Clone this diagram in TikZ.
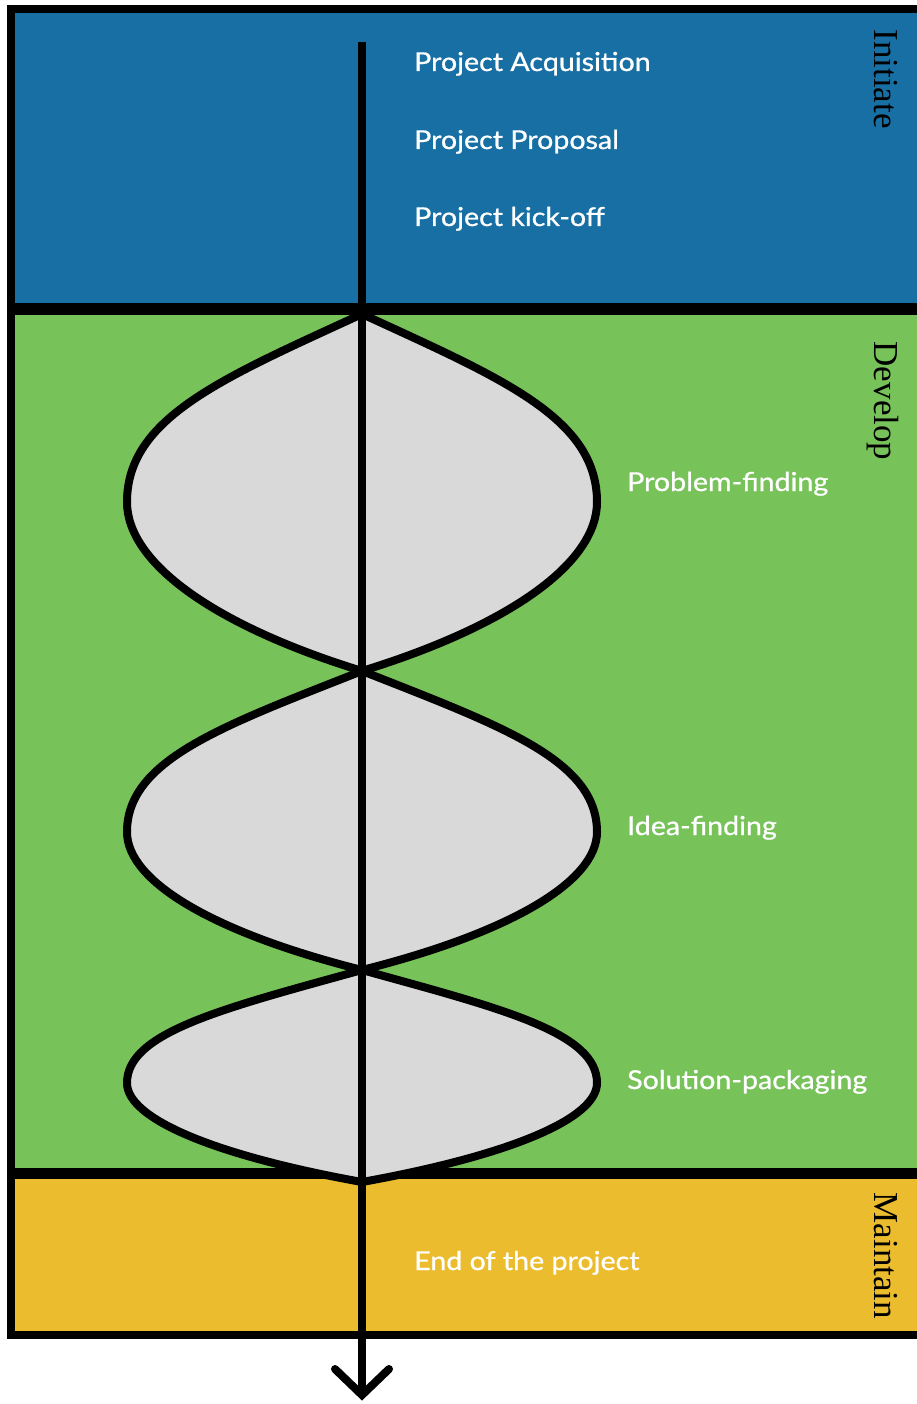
\documentclass[tikz,border=0pt]{standalone}
\usepackage{fontspec}
\newfontfamily\stepfont[FakeStretch=1.1,FakeBold=0.8]{Lato}
\newfontfamily\phasefont{Liberation Serif}
\definecolor{initblue}{HTML}{186FA3}
\definecolor{devgreen}{HTML}{78C25A}
\definecolor{maintyellow}{HTML}{EBBC2E}
\definecolor{lensgray}{HTML}{D9D9D9}
\tikzset{
  sepline/.style={line width=11pt, black},
  frameline/.style={line width=8pt, black, line join=miter},
  lensstyle/.style={fill=lensgray, draw=black, line width=8pt},
  flowline/.style={line width=8pt, black},
  steplabel/.style={text=white, font=\stepfont\fontsize{26}{30}\selectfont, anchor=base west, inner sep=0pt},
  phaselabel/.style={text=black, font=\phasefont\fontsize{35}{40}\selectfont, rotate=-90, anchor=base, inner sep=0pt}
}
\newcommand\lensshape[3]{%
  \pgfmathsetmacro\hA{#2-#1}%
  \pgfmathsetmacro\hB{#3-#2}%
  \draw[lensstyle] (362,#1)
    .. controls ({362+0.59*235},{#1+0.34*\hA}) and (597,{#2-0.45*\hA}) .. (597,#2)
    .. controls (597,{#2+0.36*\hB}) and ({362+0.63*235},{#3-0.27*\hB}) .. (362,#3)
    .. controls ({362-0.63*235},{#3-0.27*\hB}) and (127,{#2+0.36*\hB}) .. (127,#2)
    .. controls (127,{#2-0.45*\hA}) and ({362-0.59*235},{#1+0.34*\hA}) .. (362,#1) -- cycle;}
\begin{document}
\begin{tikzpicture}[x=1pt,y=-1pt]
\useasboundingbox (0,0) rectangle (917,1404);
\fill[white] (0,0) rectangle (917,1404);
% phase bands
\fill[initblue] (11,9) rectangle (917,309);
\fill[devgreen] (11,309) rectangle (917,1173);
\fill[maintyellow] (11,1173) rectangle (917,1335);
\draw[sepline] (11,309) -- (917,309);
\draw[sepline] (11,1173) -- (917,1173);
% lenses
\lensshape{314}{502}{671}
\lensshape{671}{832}{970}
\lensshape{970}{1083}{1182}
% frame
\draw[frameline] (917,9) -- (11,9) -- (11,1335) -- (917,1335);
% flow arrow
\coordinate (start) at (362,42);
\coordinate (tip) at (362,1395);
\draw[flowline] (start) -- (tip);
\draw[flowline, line cap=round, line join=miter] (tip) ++(-27,-26) -- (tip) -- ++(27,-26);
% step labels
\node[steplabel] (acq) at (414,71) {Project Acquisition};
\node[steplabel] (prop) at (414,149) {Project Proposal};
\node[steplabel] (kick) at (414,226) {Project kick-off};
\node[steplabel] (prob) at (627,491) {Problem-finding};
\node[steplabel] (idea) at (627,835) {Idea-finding};
\node[steplabel] (sol) at (627,1089) {Solution-packaging};
\node[steplabel] (end) at (414,1270) {End of the project};
% phase labels
\node[phaselabel] (init) at (874,79) {Initiate};
\node[phaselabel] (dev) at (874,401) {Develop};
\node[phaselabel] (maint) at (874,1256) {Maintain};
\end{tikzpicture}
\end{document}
